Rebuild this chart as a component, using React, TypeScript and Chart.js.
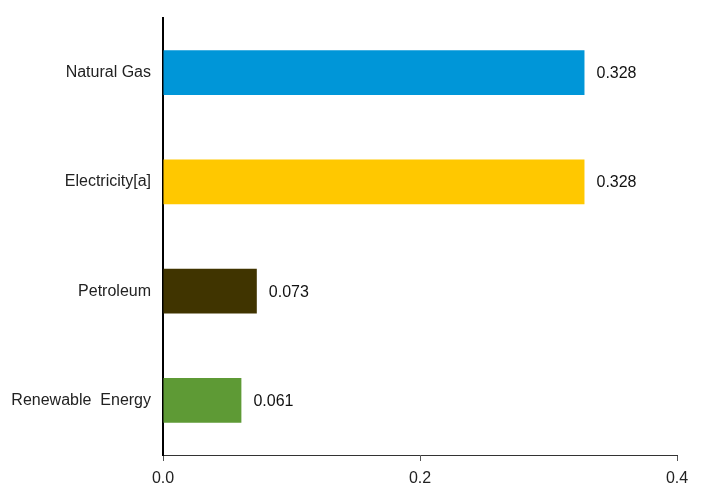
import React, { useEffect, useRef } from "react";
import { Chart, registerables } from "chart.js";

Chart.register(...registerables);

const categories = ["Natural Gas", "Electricity[a]", "Petroleum", "Renewable  Energy"];
const values = [0.328, 0.328, 0.073, 0.061];
const barColors = ["#0096D8", "#FFC800", "#403400", "#5E9A35"];
const xTicks = [0, 0.2, 0.4];

const FONT = "'Liberation Sans', Arial, sans-serif";

const valueLabels = {
  id: "valueLabels",
  afterDatasetsDraw(chart: any) {
    const ctx = chart.ctx;
    const meta = chart.getDatasetMeta(0);
    ctx.save();
    ctx.font = "16px " + FONT;
    ctx.fillStyle = "#111";
    ctx.textAlign = "left";
    ctx.textBaseline = "middle";
    meta.data.forEach((bar: any, i: number) => {
      ctx.fillText(values[i].toFixed(3), bar.x + 12, bar.y + 1);
    });
    ctx.restore();
  },
};

export default function App() {
  const ref = useRef<HTMLCanvasElement | null>(null);
  useEffect(() => {
    if (!ref.current) return;
    const chart = new Chart(ref.current, {
      type: "bar",
      data: {
        labels: categories,
        datasets: [
          {
            data: values,
            backgroundColor: barColors,
            barPercentage: 0.41,
            categoryPercentage: 1,
          },
        ],
      },
      plugins: [valueLabels],
      options: {
        indexAxis: "y",
        animation: false,
        responsive: true,
        maintainAspectRatio: false,
        layout: { padding: { top: 18, right: 30, left: 0, bottom: 0 } },
        plugins: { legend: { display: false }, tooltip: { enabled: false } },
        scales: {
          x: {
            min: 0,
            max: 0.4,
            afterBuildTicks: (scale: any) => {
              scale.ticks = xTicks.map((v) => ({ value: v }));
            },
            afterFit: (scale: any) => {
              scale.height = 32;
            },
            ticks: {
              callback: (v: any) => Number(v).toFixed(1),
              font: { family: FONT, size: 16 },
              color: "#222",
              padding: 8,
              maxRotation: 0,
            },
            grid: {
              drawOnChartArea: false,
              drawTicks: true,
              tickLength: 6,
              color: "#555",
            },
            border: { display: true, color: "#333", width: 1 },
          },
          y: {
            afterFit: (scale: any) => {
              scale.width = 163;
              scale.paddingTop = 0;
              scale.paddingBottom = 0;
            },
            ticks: {
              font: { family: FONT, size: 16 },
              color: "#222",
              padding: 12,
            },
            grid: { display: false, drawTicks: false },
            border: { display: true, color: "#000", width: 2 },
          },
        },
      },
    });
    return () => chart.destroy();
  }, []);
  return (
    <div style={{ position: "fixed", left: 0, top: 0, width: 707, height: 487, background: "#fff" }}>
      <canvas ref={ref} />
    </div>
  );
}
